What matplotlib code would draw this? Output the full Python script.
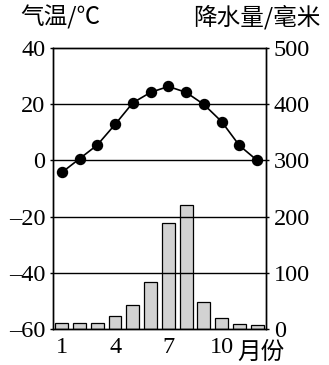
import numpy as np
import matplotlib.pyplot as plt

months = np.arange(1, 13)
temp = [-4.3, 0.6, 5.5, 12.8, 20.5, 24.2, 26.3, 24.2, 19.9, 13.8, 5.3, 0.0]
precip = [11, 11, 11, 24, 43, 84, 188, 220, 48, 19, 9, 8]

num_font = 'Liberation Serif'
cjk_font = ['Noto Sans CJK SC', 'DejaVu Sans']

fig = plt.figure(figsize=(3.29, 3.65), dpi=100)
ax = fig.add_axes([0.161, 0.0986, 0.6475, 0.77])
ax2 = ax.twinx()

# grid lines on the temperature axis, bars cover them
for v in [20, 0, -20, -40]:
    ax.axhline(v, color='black', lw=1.0, zorder=0)

ax2.bar(months, precip, width=0.72, facecolor='#d2d2d2', edgecolor='black', lw=0.9)
ax.plot(months, temp, color='black', lw=1.2, marker='o', markersize=7.2, zorder=5)
ax.set_zorder(ax2.get_zorder() + 1)
ax.patch.set_visible(False)

ax.set_xlim(0.5, 12.5)
ax.set_ylim(-60, 40)
ax2.set_ylim(0, 500)
ax.set_yticks([40, 20, 0, -20, -40, -60])
ax.set_yticklabels(['40', '20', '0', '\u201320', '\u201340', '\u201360'])
ax2.set_yticks([500, 400, 300, 200, 100, 0])
ax.set_xticks([1, 4, 7, 10])
ax.set_xticklabels(['1', '4', '7', '10'])

for a in (ax, ax2):
    a.tick_params(axis='y', length=2.5, width=1.0, labelsize=17.5, pad=3)
    a.tick_params(axis='x', length=0, labelsize=17.5, pad=6)
    for lab in a.get_xticklabels() + a.get_yticklabels():
        lab.set_fontfamily(num_font)
    for s in a.spines.values():
        s.set_linewidth(1.0)

ax.text(10.9, -0.084, '月份', transform=ax.get_xaxis_transform(), ha='left', va='center',
        fontsize=17, family=cjk_font)
fig.text(0.062, 0.952, '气温/℃', ha='left', va='center', fontsize=17, family=cjk_font)
fig.text(0.975, 0.952, '降水量/毫米', ha='right', va='center', fontsize=17, family=cjk_font)

fig.savefig('out.png', dpi=100)
